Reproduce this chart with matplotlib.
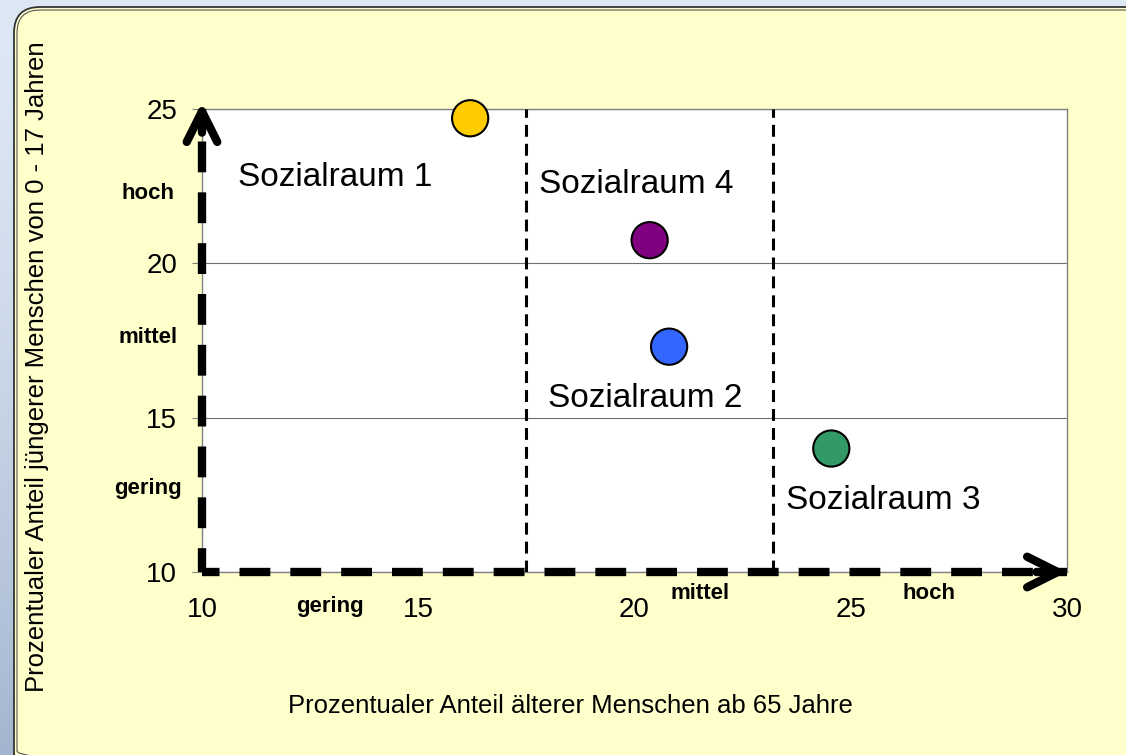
import numpy as np
import matplotlib.pyplot as plt
from matplotlib.patches import FancyBboxPatch
from matplotlib.transforms import offset_copy

plt.rcParams['font.family'] = ['Liberation Sans', 'DejaVu Sans']

# Daten der Sozialräume
sozialraeume = ['Sozialraum 1', 'Sozialraum 2', 'Sozialraum 3', 'Sozialraum 4']
anteil_alt = [16.2, 20.8, 24.55, 20.35]      # % ab 65 Jahre
anteil_jung = [24.7, 17.3, 14.0, 20.75]      # % 0 - 17 Jahre
farben = ['#FFCC00', '#3366FF', '#339966', '#800080']
label_x = [13.08, 20.24, 25.75, 20.03]
label_y = [22.52, 15.35, 12.04, 22.28]

# Einteilung gering / mittel / hoch
grenzen_x = [17.5, 23.2]
stufen = ['gering', 'mittel', 'hoch']
stufen_x_pos = [12.96, 21.51, 26.81]
stufen_x_hoehe = [8.87, 9.29, 9.29]
stufen_y_pos = [12.69, 17.61, 22.25]
stufen_y_links = 8.75

xticks = [10, 15, 20, 25, 30]
yticks = [10, 15, 20, 25]

fig = plt.figure(figsize=(11.26, 7.55), dpi=100)

# Hintergrund mit Verlauf und abgerundetem Rahmen (Koordinaten in Pixeln)
bg = fig.add_axes([0, 0, 1, 1])
bg.axis('off')
t = np.linspace(0, 1, 256)[:, None]
hell = np.array([0.87, 0.91, 0.96])
dunkel = np.array([0.64, 0.71, 0.81])
verlauf = hell + (dunkel - hell) * t[..., None] ** 1.5
verlauf = np.repeat(verlauf, 2, axis=1)
bg.imshow(verlauf, extent=[0, 1126, 755, 0], aspect='auto')
bg.add_patch(FancyBboxPatch((14, 7), 1140, 770, boxstyle='round,pad=0,rounding_size=26',
                            fc='#FFFFCC', ec='#333333', lw=1.3))
bg.add_patch(FancyBboxPatch((17, 10), 1134, 764, boxstyle='round,pad=0,rounding_size=23',
                            fc='none', ec='#555555', lw=0.8))
bg.set_autoscale_on(False)
bg.set_xlim(0, 1126)
bg.set_ylim(755, 0)

# Diagramm
ax = fig.add_axes([202 / 1126, 1 - 572 / 755, 865 / 1126, 463 / 755])
ax.set_xlim(xticks[0], xticks[-1])
ax.set_ylim(yticks[0], yticks[-1])
ax.set_facecolor('white')
for s in ax.spines.values():
    s.set_color('#808080')
    s.set_linewidth(1)
ax.set_axisbelow(True)
ax.yaxis.grid(True, color='#707070', lw=0.8)

for g in grenzen_x:
    ax.axvline(g, color='black', lw=2.2, linestyle=(0, (3.9, 2.3)), zorder=3)

# dicke gestrichelte Achsen mit Pfeilen
ax.axhline(yticks[0], color='black', lw=6, linestyle=(1.6, (3.7, 2.4)),
           clip_on=False, zorder=4)
ax.axvline(xticks[0], color='black', lw=6, linestyle=(0.84, (3.7, 2.4)),
           clip_on=False, zorder=4)
kopf = dict(arrowstyle='->,head_length=1.1,head_width=0.55', lw=6, color='black',
            mutation_scale=20, shrinkA=0, shrinkB=0, capstyle='round', joinstyle='round')
ax.annotate('', xy=(xticks[-1], yticks[0]), xytext=(-22, 0), textcoords='offset points',
            arrowprops=kopf, annotation_clip=False, zorder=4)
ax.annotate('', xy=(xticks[0], yticks[-1]),
            xycoords=offset_copy(ax.transData, fig=fig, y=5, units='points'),
            xytext=(0, -22), textcoords='offset points',
            arrowprops=kopf, annotation_clip=False, zorder=4)

ax.scatter(anteil_alt, anteil_jung, s=680, c=farben, edgecolors='black',
           linewidths=1.5, zorder=5, clip_on=False)
for name, lx, ly in zip(sozialraeume, label_x, label_y):
    ax.text(lx, ly, name, fontsize=24, ha='center', va='baseline', zorder=6)

for s, px, py in zip(stufen, stufen_x_pos, stufen_x_hoehe):
    ax.text(px, py, s, fontsize=16, fontweight='bold', ha='center', va='center')
for s, py in zip(stufen, stufen_y_pos):
    ax.text(stufen_y_links, py, s, fontsize=16, fontweight='bold', ha='center', va='center')

ax.set_xticks(xticks)
ax.set_yticks(yticks)
ax.tick_params(axis='x', length=0, pad=18, labelsize=20)
ax.tick_params(axis='y', length=7, color='#808080', pad=11, labelsize=20)

fig.text(570 / 1126, 1 - 706 / 755, 'Prozentualer Anteil älterer Menschen ab 65 Jahre',
         fontsize=18.5, ha='center', va='center')
fig.text(37 / 1126, 1 - 367 / 755, 'Prozentualer Anteil jüngerer Menschen von 0 - 17 Jahren',
         fontsize=18.5, ha='center', va='center', rotation=90)

fig.savefig('out.png', dpi=100)
